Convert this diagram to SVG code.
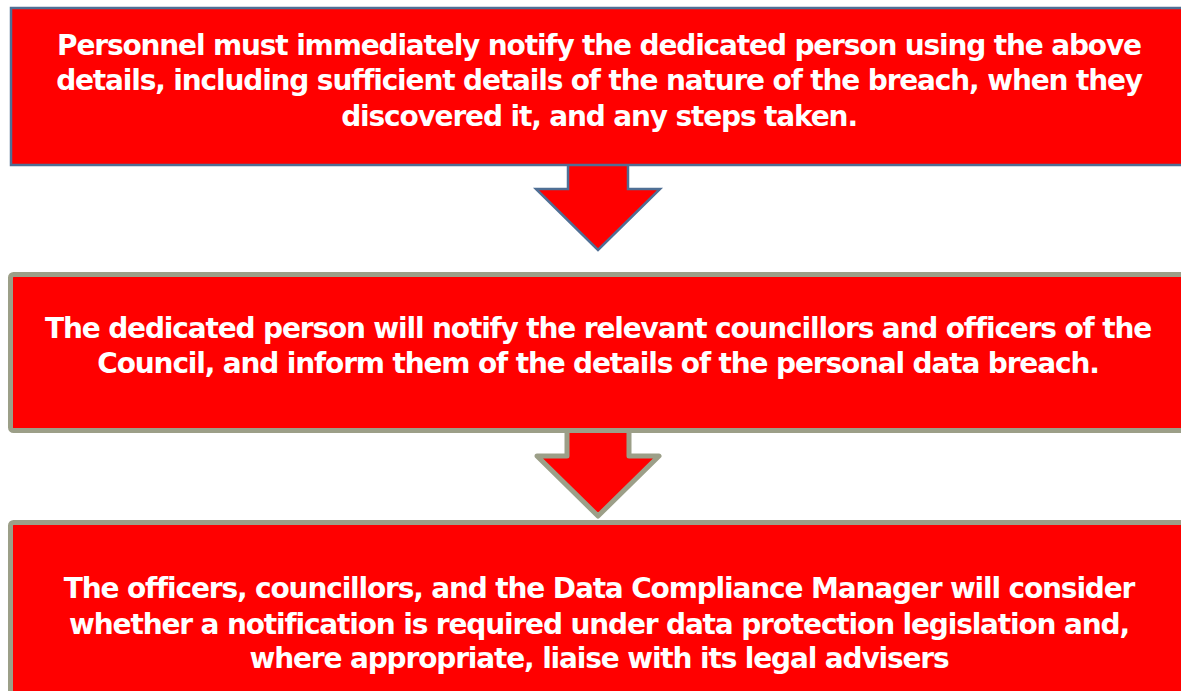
<svg xmlns="http://www.w3.org/2000/svg" width="1181" height="691" viewBox="0 0 1181 691">
  <style>
    .txt { font-family: "DejaVu Sans", Verdana, sans-serif; font-weight: bold; font-size: 28px; letter-spacing: -1.15px; fill: #ffffff; text-anchor: middle; }
    .box1 { fill: #ff0000; stroke: #4f6f95; stroke-width: 2.5; }
    .box2 { fill: #ff0000; stroke: #9c9f88; stroke-width: 5; }
  </style>
  <rect width="1181" height="691" fill="#ffffff"/>

  <g id="connectors">
    <path id="arrow1" class="box1" stroke-linejoin="miter" d="M568,164 L568,189 L536,189 L598,250 L660,189 L628,189 L628,164"/>
    <path id="arrow2" class="box2" stroke-linejoin="round" d="M567,431 L567,456 L537,456 L598,516 L659,456 L629,456 L629,431"/>
  </g>

  <g id="step1">
    <rect class="box1" x="11" y="8" width="1180" height="157"/>
    <text class="txt" x="599" y="55">Personnel must immediately notify the dedicated person using the above</text>
    <text class="txt" x="599" y="90">details, including sufficient details of the nature of the breach, when they</text>
    <text class="txt" x="599" y="126">discovered it, and any steps taken.</text>
  </g>

  <g id="step2">
    <rect class="box2" x="10.5" y="274.5" width="1180" height="156" rx="3"/>
    <text class="txt" x="598" y="338">The dedicated person will notify the relevant councillors and officers of the</text>
    <text class="txt" x="598" y="373">Council, and inform them of the details of the personal data breach.</text>
  </g>

  <g id="step3">
    <rect class="box2" x="10.5" y="522.5" width="1180" height="180" rx="3"/>
    <text class="txt" x="599" y="598">The officers, councillors, and the Data Compliance Manager will consider</text>
    <text class="txt" x="599" y="634">whether a notification is required under data protection legislation and,</text>
    <text class="txt" x="599" y="668">where appropriate, liaise with its legal advisers</text>
  </g>
</svg>
